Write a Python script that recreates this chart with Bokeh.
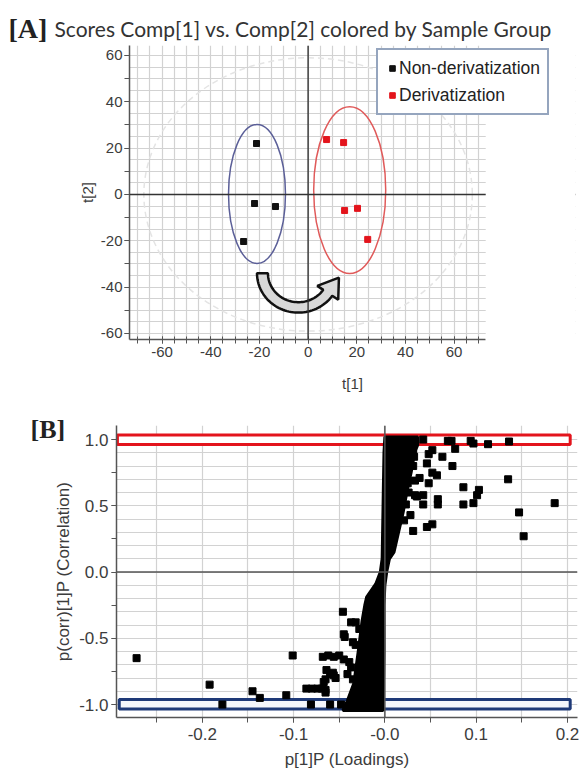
import numpy as np
from bokeh.plotting import figure
from bokeh.models import Range1d, FixedTicker, Span, Label, Legend, LegendItem, BoxAnnotation
from bokeh.layouts import column
from bokeh.embed import file_html
from bokeh.resources import INLINE

# ---------------- Panel A data ----------------
group_names = ["Non-derivatization", "Derivatization"]
nonderiv_t1 = [-21.2, -22.0, -13.4, -26.5]
nonderiv_t2 = [22.0, -3.9, -5.2, -20.3]
deriv_t1 = [7.6, 14.6, 15.0, 20.3, 24.5]
deriv_t2 = [23.7, 22.4, -6.9, -6.0, -19.4]
a_xticks = [-60, -40, -20, 0, 20, 40, 60]
a_yticks = [-60, -40, -20, 0, 20, 40, 60]
a_ticklabels = ["-60", "-40", "-20", "0", "20", "40", "60"]
# group ellipses (centre, width, height) in score units
grp_ell_x = [-21.0, 17.1]
grp_ell_y = [0.2, 1.9]
grp_ell_w = [23.4, 29.6]
grp_ell_h = [60.0, 72.0]
grp_ell_col = ["#5b5f98", "#e05a5a"]
# Hotelling T2 ellipse
t2_w, t2_h = 135.0, 118.0

# ---------------- Panel B data ----------------
b_xticks = [-0.2, -0.1, 0.0, 0.1, 0.2]
b_xlabels = ["-0.2", "-0.1", "-0.0", "0.1", "0.2"]
b_yticks = [-1.0, -0.5, 0.0, 0.5, 1.0]
b_ylabels = ["-1.0", "-0.5", "0.0", "0.5", "1.0"]
# outline of the dense mass of variables
dense_x = [-0.002, -0.001, -0.001, 0.000, 0.002, 0.005, 0.010, 0.015, 0.020, 0.024,
           0.029, 0.033, 0.036, 0.036, 0.000, -0.001, -0.002, -0.003, -0.005, -0.010,
           -0.020, -0.022, -0.025, -0.029, -0.034, -0.041, -0.046]
dense_y = [-1.045, -0.60, -0.25, -0.10, 0.00, 0.10, 0.15, 0.30, 0.45, 0.60,
           0.76, 0.91, 0.96, 1.02, 1.02, 0.90, 0.50, 0.10, 0.00, -0.09,
           -0.19, -0.25, -0.37, -0.59, -0.84, -0.97, -1.045]
# scattered variables
out_x = [0.042, 0.069, 0.073, 0.094, 0.097, 0.113, 0.136, 0.052, 0.048, 0.077,
         0.063, 0.046, 0.074, 0.031, 0.052, 0.057, 0.033, 0.038, 0.048, 0.135,
         0.086, 0.103, 0.101, 0.033, 0.035, 0.042, 0.042, 0.058, 0.058, 0.086,
         0.097, 0.023, 0.186, 0.147, 0.028, 0.152, 0.031, 0.046, 0.052, 0.021,
         0.031, 0.032, 0.025, 0.026,
         -0.272, -0.192, -0.178, -0.145, -0.137, -0.108, -0.101, -0.081, -0.060, -0.048,
         -0.086, -0.080, -0.074, -0.069, -0.065, -0.065, -0.067, -0.065, -0.057, -0.056,
         -0.068, -0.062, -0.056, -0.050, -0.046, -0.045, -0.044, -0.037, -0.032, -0.028,
         -0.035, -0.032, -0.045, -0.039, -0.064, -0.060, -0.054, -0.041, -0.037, -0.035]
out_y = [1.00, 0.99, 0.99, 0.99, 0.97, 0.965, 0.985, 0.92, 0.89, 0.93,
         0.87, 0.82, 0.80, 0.80, 0.75, 0.73, 0.69, 0.71, 0.67, 0.70,
         0.64, 0.62, 0.58, 0.58, 0.57, 0.58, 0.51, 0.55, 0.51, 0.51,
         0.52, 0.51, 0.52, 0.45, 0.43, 0.27, 0.31, 0.34, 0.36, 0.39,
         0.91, 0.87, 0.67, 0.60,
         -0.65, -0.85, -1.00, -0.90, -0.95, -0.93, -0.63, -1.00, -1.00, -1.00,
         -0.88, -0.88, -0.88, -0.88, -0.89, -0.91, -0.83, -0.81, -0.76, -0.78,
         -0.64, -0.63, -0.64, -0.63, -0.30, -0.47, -0.49, -0.38, -0.38, -0.43,
         -0.53, -0.55, -0.66, -0.68, -0.74, -0.77, -0.80, -0.77, -0.72, -0.81]
# highlight boxes: (left, right, bottom, top)
box_red = (-0.293, 0.203, 0.962, 1.034)
box_blue = (-0.291, 0.203, -1.034, -0.962)

TICK_FONT = "Liberation Sans"
TXT_COL = "#3c3c3c"
AX_COL = "#555555"


def style_axes(p, size):
    for ax in (p.xaxis[0], p.yaxis[0]):
        ax.axis_line_color = AX_COL
        ax.axis_line_width = 1.5
        ax.major_tick_line_color = AX_COL
        ax.minor_tick_line_color = AX_COL
        ax.major_label_text_font = TICK_FONT
        ax.major_label_text_font_size = size
        ax.major_label_text_color = TXT_COL
        ax.axis_label_text_font = TICK_FONT
        ax.axis_label_text_font_size = size
        ax.axis_label_text_font_style = "normal"
        ax.axis_label_text_color = TXT_COL


# ================= Panel A =================
A_XMIN, A_XMAX = -73.4, 73.0          # visible score axis
A_XFRAME_MAX = 109.9                  # frame extended to the right for the legend
pa = figure(width=586, height=395, x_range=Range1d(A_XMIN, A_XFRAME_MAX), y_range=Range1d(-62.6, 64.3),
            output_backend="svg", toolbar_location=None,
            min_border_left=129, min_border_right=11, min_border_top=45, min_border_bottom=56,
            outline_line_color=None, background_fill_color="white", border_fill_color="white")
pa.frame_align = False
pa.xgrid.ticker = FixedTicker(ticks=list(np.arange(-70, 71, 5)))
pa.ygrid.ticker = FixedTicker(ticks=list(np.arange(-60, 61, 5)))
for g in (pa.xgrid[0], pa.ygrid[0]):
    g.grid_line_color = "#d2d2d2"
    g.grid_line_width = 1.2
pa.xaxis.ticker = FixedTicker(ticks=a_xticks, minor_ticks=list(np.arange(-70, 71, 5)))
pa.yaxis.ticker = FixedTicker(ticks=a_yticks, minor_ticks=list(np.arange(-60, 61, 10)))
pa.xaxis.major_label_overrides = dict(zip(a_xticks, a_ticklabels))
pa.yaxis.major_label_overrides = dict(zip(a_yticks, a_ticklabels))
pa.xaxis.bounds = (A_XMIN, A_XMAX)
style_axes(pa, "15px")
pa.xaxis.major_tick_in = 3
pa.xaxis.major_tick_out = 4
pa.xaxis.minor_tick_in = 3
pa.xaxis.minor_tick_out = 4
pa.yaxis.major_tick_in = 0
pa.yaxis.major_tick_out = 5
pa.yaxis.minor_tick_in = 0
pa.yaxis.minor_tick_out = 5
pa.xaxis.major_label_standoff = 3
pa.yaxis.major_label_standoff = 2
pa.xaxis.axis_label = "t[1]"
pa.yaxis.axis_label = "t[2]"
pa.xaxis.axis_label_standoff = 15
pa.yaxis.axis_label_standoff = 2

# Hotelling ellipse
pa.ellipse(x=[0], y=[0], width=[t2_w], height=[t2_h], fill_color=None,
           line_color="#e4e4e4", line_width=1.5, line_dash="6 4")
pa.add_layout(Span(location=0, dimension="height", line_color="#333333", line_width=1.4))
pa.add_layout(Span(location=0, dimension="width", line_color="#333333", line_width=1.4))
pa.ellipse(x=grp_ell_x, y=grp_ell_y, width=grp_ell_w, height=grp_ell_h, fill_color=None,
           line_color=grp_ell_col, line_width=1.5)

# curved arrow (decoration)
ac_x, ac_y, r_out, r_in = -4.0, -34.0, 17.0, 12.5
th = np.radians(np.linspace(180, 325, 50))
te = th[-1]
rm = (r_out + r_in) / 2
ax_pts = list(ac_x + r_out * np.cos(th)) + [ac_x + 20 * np.cos(te),
                                            ac_x + rm * np.cos(te) - 8 * np.sin(te),
                                            ac_x + 9.5 * np.cos(te)] + list(ac_x + r_in * np.cos(th[::-1]))
ay_pts = list(ac_y + r_out * np.sin(th)) + [ac_y + 20 * np.sin(te),
                                            ac_y + rm * np.sin(te) + 8 * np.cos(te),
                                            ac_y + 9.5 * np.sin(te)] + list(ac_y + r_in * np.sin(th[::-1]))
pa.patch(ax_pts, ay_pts, fill_color="#d8d8d8", line_color="#111111", line_width=2.5)

r0 = pa.scatter(nonderiv_t1, nonderiv_t2, marker="square", size=6, color="#111111")
r1 = pa.scatter(deriv_t1, deriv_t2, marker="square", size=6, color="#e3141c")

# blank out the extended part of the frame (right of the score axis)
pa.add_layout(BoxAnnotation(left=A_XMAX, fill_color="white", fill_alpha=1.0, line_color=None))

legend = Legend(items=[LegendItem(label=group_names[0], renderers=[r0]),
                       LegendItem(label=group_names[1], renderers=[r1])],
                location=(247, 224), orientation="vertical", padding=7, spacing=5, margin=0,
                glyph_width=14, glyph_height=22, label_height=22, label_standoff=-2,
                label_text_font=TICK_FONT, label_text_font_size="17.5px", label_text_color="#222222",
                border_line_color="#2b4c7e", border_line_width=2.5,
                background_fill_color="white", background_fill_alpha=1.0)
pa.add_layout(legend)

pa.add_layout(Label(x=A_XMIN, y=64.3, x_offset=-121, y_offset=17, text="[A]",
                    text_font="Liberation Serif", text_font_style="bold", text_font_size="28px",
                    text_color="#222222", text_baseline="alphabetic"), "left")
pa.add_layout(Label(x=A_XMIN, y=64.3, x_offset=-75, y_offset=17,
                    text="Scores Comp[1] vs. Comp[2] colored by Sample Group",
                    text_font="Lato", text_font_size="21px", text_color="#333333",
                    text_baseline="alphabetic"), "above")

# ================= Panel B =================
pb = figure(width=586, height=381, x_range=Range1d(-0.294, 0.211), y_range=Range1d(-1.098, 1.106),
            output_backend="svg", toolbar_location=None,
            min_border_left=116, min_border_right=9, min_border_top=30, min_border_bottom=59,
            outline_line_color=None, background_fill_color="white", border_fill_color="white")
pb.frame_align = False
pb.xgrid.ticker = FixedTicker(ticks=[round(v, 2) for v in np.arange(-0.25, 0.21, 0.05)])
pb.ygrid.ticker = FixedTicker(ticks=[round(v, 1) for v in np.arange(-1.0, 1.01, 0.1)])
for g in (pb.xgrid[0], pb.ygrid[0]):
    g.grid_line_color = "#d2d2d2"
    g.grid_line_width = 1.2
pb.xaxis.ticker = FixedTicker(ticks=b_xticks, minor_ticks=[round(v, 2) for v in np.arange(-0.25, 0.21, 0.05)])
pb.yaxis.ticker = FixedTicker(ticks=b_yticks, minor_ticks=[round(v, 2) for v in np.arange(-1.0, 1.01, 0.25)])
pb.xaxis.major_label_overrides = dict(zip(b_xticks, b_xlabels))
pb.yaxis.major_label_overrides = dict(zip(b_yticks, b_ylabels))
style_axes(pb, "17px")
for ax in (pb.xaxis[0], pb.yaxis[0]):
    ax.major_tick_in = 0
    ax.major_tick_out = 5
    ax.minor_tick_in = 0
    ax.minor_tick_out = 5
pb.xaxis.major_label_standoff = 5
pb.yaxis.major_label_standoff = 3
pb.xaxis.axis_label = "p[1]P (Loadings)"
pb.yaxis.axis_label = "p(corr)[1]P (Correlation)"
pb.xaxis.axis_label_standoff = 7
pb.yaxis.axis_label_standoff = 3

pb.add_layout(Span(location=0, dimension="width", line_color="#555555", line_width=1.5))
pb.add_layout(Span(location=0, dimension="height", line_color="#555555", line_width=1.5))

pb.quad(left=[box_red[0]], right=[box_red[1]], bottom=[box_red[2]], top=[box_red[3]],
        fill_color="white", line_color="#e3141c", line_width=3)
pb.quad(left=[box_blue[0]], right=[box_blue[1]], bottom=[box_blue[2]], top=[box_blue[3]],
        fill_color="#f4f6fb", line_color="#1f3a78", line_width=3)

pb.patch(dense_x, dense_y, fill_color="#000000", line_color="#000000", line_width=3)
pb.scatter(out_x, out_y, marker="square", size=7, color="#000000")

pb.add_layout(Label(x=-0.294, y=1.106, x_offset=-86, y_offset=-4, text="[B]",
                    text_font="Liberation Serif", text_font_style="bold", text_font_size="26px",
                    text_color="#222222", text_baseline="alphabetic"), "above")

layout = column(pa, pb)
open("out.html", "w").write(file_html(layout, INLINE))
